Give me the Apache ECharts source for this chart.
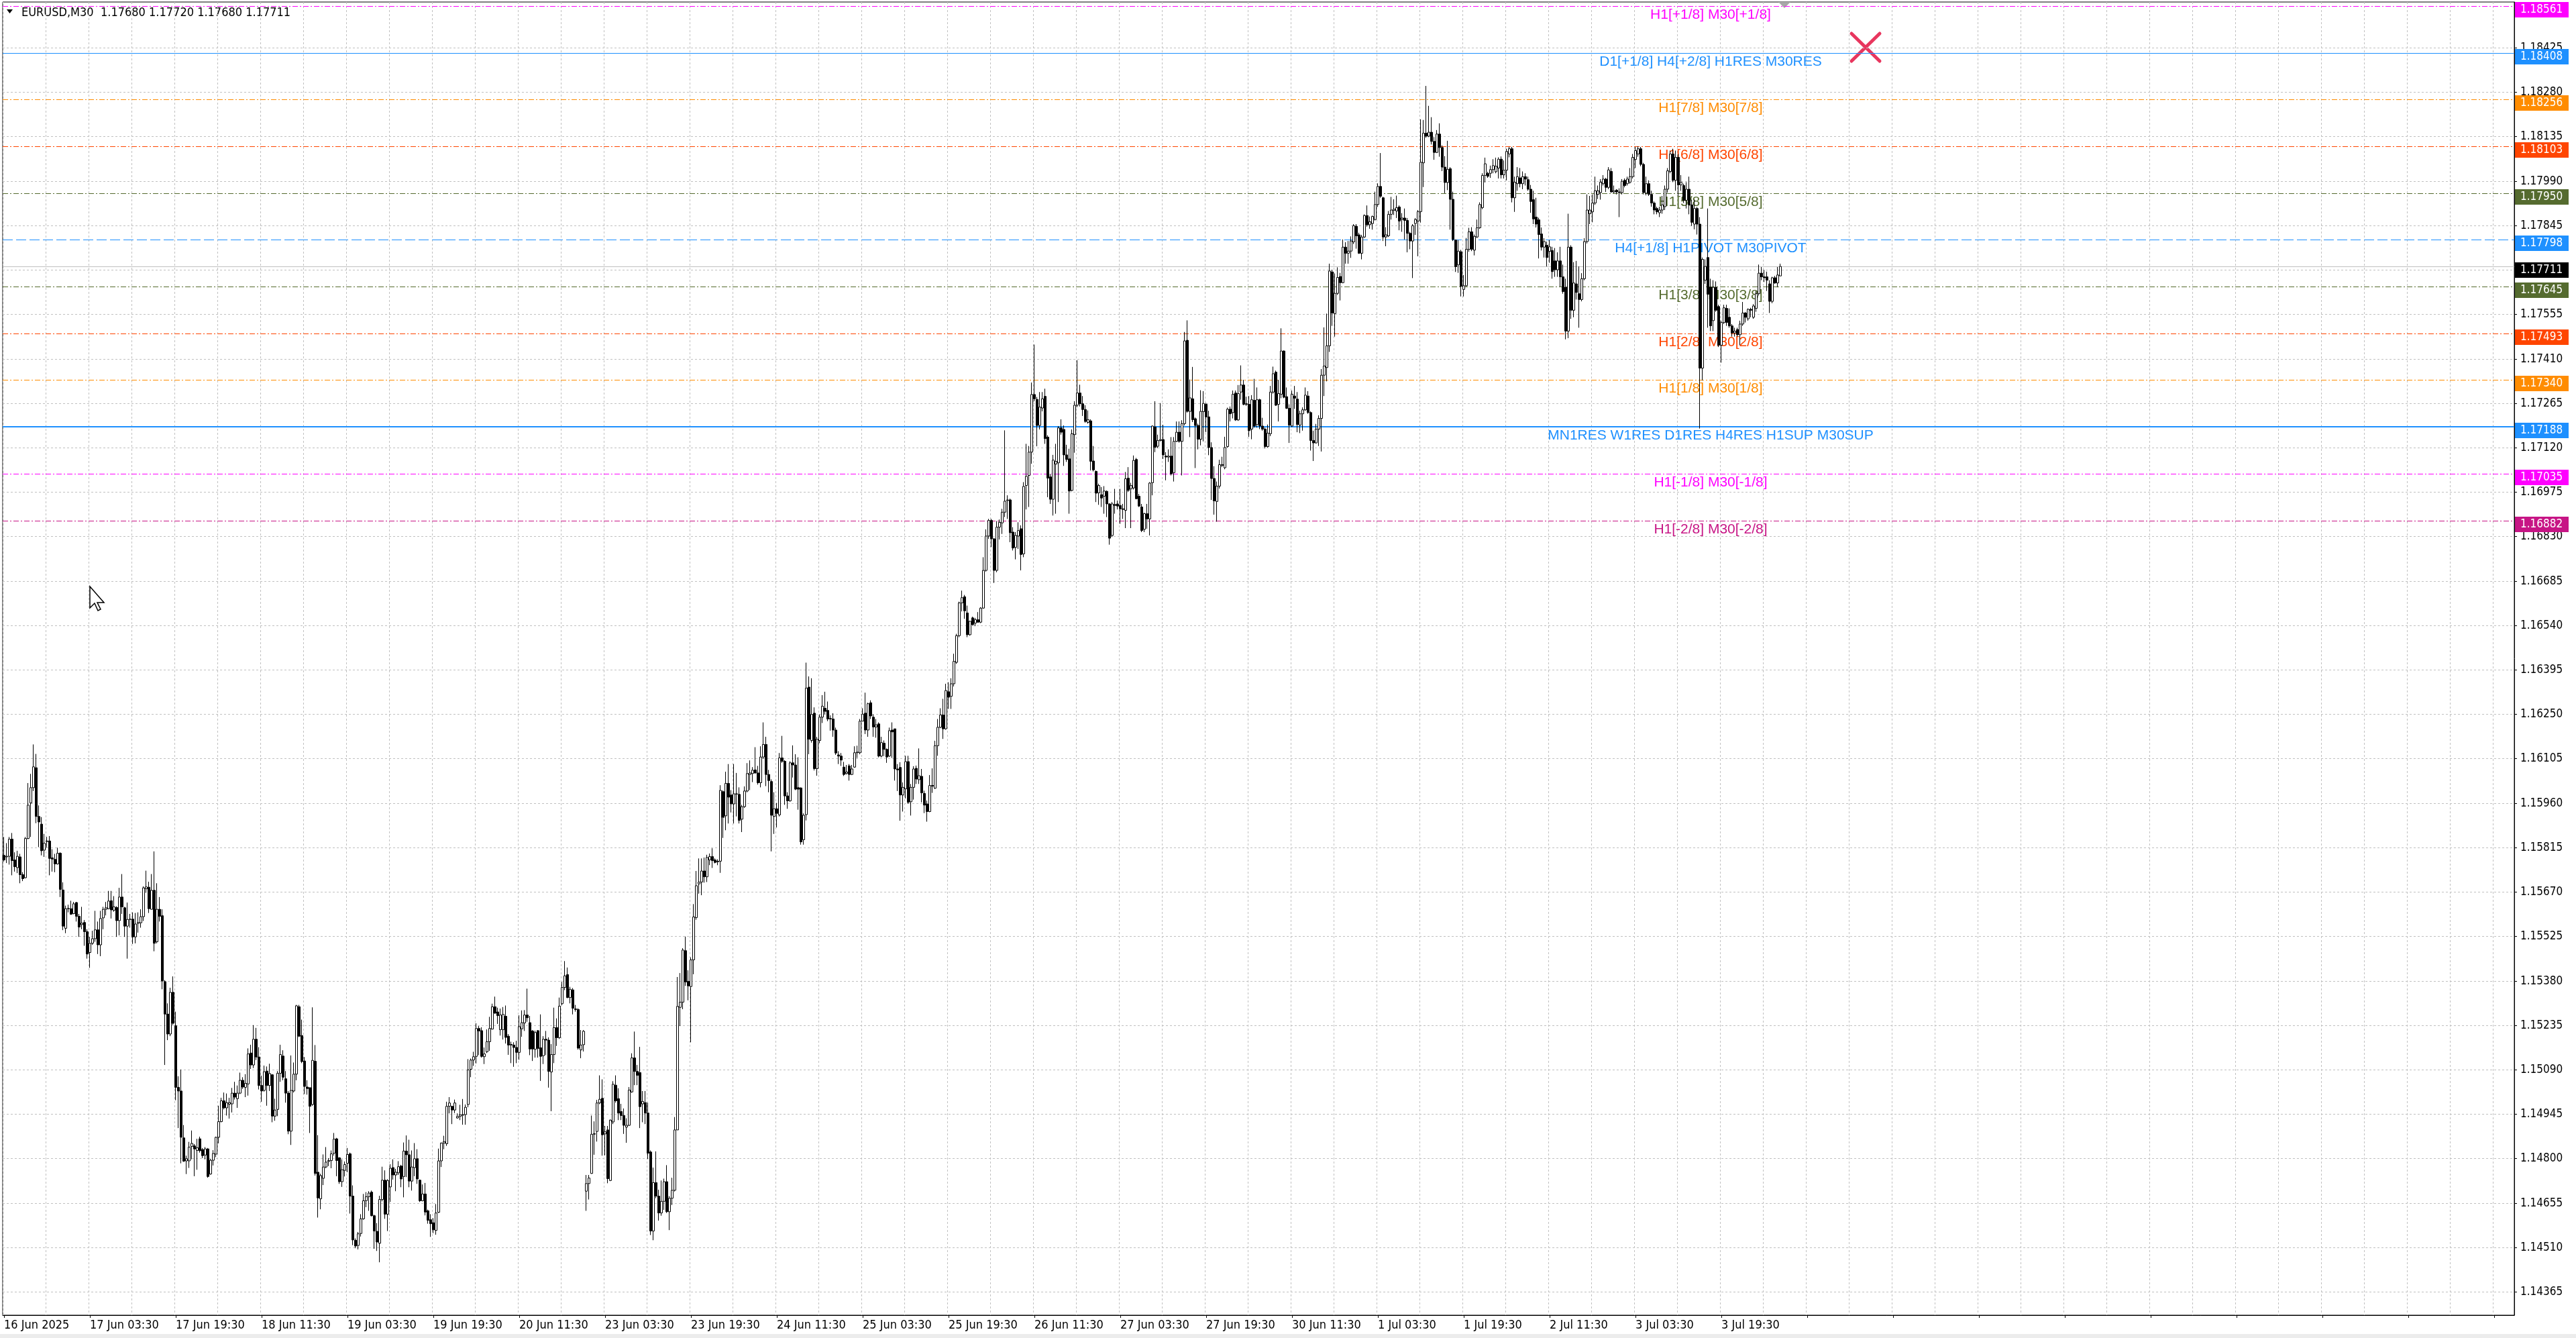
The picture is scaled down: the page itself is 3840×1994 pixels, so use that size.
<!DOCTYPE html>
<html><head><meta charset="utf-8">
<script src="https://cdn.jsdelivr.net/npm/echarts@6/dist/echarts.min.js"></script>
<style>html,body{margin:0;padding:0;background:#fff;overflow:hidden}#c{width:3840px;height:1994px}</style>
</head><body><div id="c"></div>
<script>
// Prices are stored as offsets in units of 0.00001 from BASE (1.14000)
const BASE = 1.14;
const opens = [1789,1784,1786,1842,1774,1749,1784,1726,1716,1844,
1960,2010,2075,1916,1891,1806,1834,1836,1781,1776,
1761,1796,1676,1551,1615,1615,1599,1635,1590,1563,
1570,1540,1472,1502,1517,1546,1497,1585,1613,1615,
1641,1610,1619,1576,1653,1618,1558,1580,1581,1523,
1567,1569,1589,1680,1685,1613,1675,1507,1613,1592,
1377,1271,1206,1342,1233,1032,1020,867,792,792,
839,841,826,864,829,811,831,749,794,814,
869,920,988,965,977,978,1013,995,1013,1055,
1032,1043,1144,1105,1189,1131,1038,1022,1085,1038,
1073,938,960,1078,1134,1060,1013,889,1020,1075,
1295,1201,1118,1033,1031,976,1117,755,668,735,
772,790,793,817,864,802,724,761,784,815,
677,533,516,555,603,662,675,690,613,562,
523,666,729,618,707,770,746,753,775,741,
824,812,726,770,799,729,662,684,629,600,
590,565,624,792,850,848,970,970,958,932,
937,941,943,976,1091,1121,1133,1224,1217,1132,
1148,1181,1222,1295,1278,1220,1220,1264,1199,1170,
1170,1162,1146,1223,1242,1268,1243,1216,1156,1217,
1161,1135,1189,1186,1082,1139,1227,1194,1305,1358,
1400,1325,1350,1288,1286,1154,1171,693,718,751,
879,888,981,996,880,893,728,919,1039,995,
953,940,902,908,1017,1128,1084,1080,978,982,
948,821,563,721,677,622,660,724,626,670,
696,893,1293,1310,1478,1378,1361,1448,1586,1696,
1702,1738,1719,1774,1785,1774,1770,1770,1997,1918,
2024,1986,1957,1990,1988,1907,1948,1999,2053,2056,
2068,2058,2026,2110,2151,2053,2030,1916,1941,1921,
2107,2096,1983,1967,2091,2084,2010,2009,1840,1922,
2338,2164,2253,2072,2164,2240,2269,2262,2234,2234,
2198,2117,2113,2077,2056,2081,2053,2077,2124,2124,
2227,2253,2198,2287,2240,2208,2218,2113,2155,2135,
2113,2198,2202,2071,2076,1986,2006,2095,1964,2011,
2073,2036,2047,1991,1957,1932,2017,2008,2147,2207,
2247,2202,2323,2308,2349,2419,2506,2613,2633,2580,
2509,2564,2547,2558,2550,2596,2719,2831,2882,2822,
2719,2860,2874,2909,2947,2949,2844,2794,2831,2855,
2773,2996,3029,3105,3293,3277,3192,3249,3287,3154,
3024,2951,3066,3070,3184,3179,3096,3083,2980,3162,
3258,3298,3263,3244,3202,3207,3076,3042,2972,2966,
2961,2977,2936,2833,2934,2936,2931,2920,2915,3020,
2985,2988,3081,2961,2926,2853,2904,2887,3005,3187,
3124,3143,3146,3092,3089,3092,3038,3140,3170,3140,
3198,3470,3238,3279,3214,3192,3147,3237,3261,3220,
3120,3019,2944,2994,3064,3054,3123,3245,3234,3298,
3210,3301,3324,3261,3261,3180,3274,3195,3276,3190,
3180,3123,3165,3301,3366,3261,3294,3435,3286,3248,
3190,3288,3278,3193,3230,3243,3288,3234,3143,3135,
3180,3215,3356,3381,3452,3693,3557,3623,3678,3658,
3774,3754,3761,3791,3842,3814,3754,3807,3877,3847,
3851,3864,3913,3972,3935,3807,3811,3881,3894,3892,
3905,3864,3869,3861,3819,3794,3851,3859,3890,4049,
4146,4136,4149,4119,4083,4143,4099,4035,3985,4030,
3930,3797,3716,3759,3636,3648,3767,3824,3764,3807,
3837,3903,4008,4015,4015,4027,4020,4032,4061,4010,
4025,4078,4095,3935,3981,4000,3981,4004,3994,3963,
3929,3872,3863,3817,3774,3780,3760,3763,3729,3700,
3729,3677,3643,3500,3774,3568,3654,3622,3603,3671,
3792,3883,3889,3918,3946,3952,3981,3996,3969,4021,
3954,3960,3954,3952,3992,3981,3986,4004,4060,4078,
4095,4044,3950,3981,3946,3918,3900,3886,3895,3906,
3963,4021,4078,3992,4067,3977,3975,3927,3963,3912,
3849,3900,3849,3379,3666,3740,3643,3534,3643,3580,
3454,3528,3574,3545,3517,3494,3505,3488,3523,3559,
3540,3571,3545,3574,3622,3689,3677,3677,3654,3597,
3674,3657,3680];
const highs = [1849,1829,1849,1862,1799,1804,1794,1734,1849,2025,
2055,2151,2120,1952,1914,1859,1849,1852,1809,1794,
1814,1799,1701,1625,1628,1641,1637,1637,1598,1621,
1578,1548,1523,1543,1608,1573,1608,1621,1637,1673,
1673,1656,1623,1683,1728,1621,1635,1598,1603,1601,
1603,1613,1688,1739,1703,1728,1802,1698,1653,1613,
1382,1306,1357,1394,1279,1068,1090,909,809,854,
891,847,864,871,834,837,834,799,827,871,
972,998,1015,1012,998,1030,1050,1038,1080,1065,
1075,1159,1171,1235,1226,1163,1070,1103,1100,1109,
1075,995,1085,1171,1153,1085,1020,1136,1113,1301,
1301,1253,1131,1055,1031,1293,1170,876,750,813,
837,801,826,883,867,804,797,790,834,819,
712,539,560,618,684,690,693,695,616,589,
678,773,761,732,781,797,766,791,779,852,
875,861,826,850,830,731,715,720,633,618,
605,651,832,852,874,985,1000,972,992,947,
975,994,976,1124,1126,1148,1241,1232,1228,1162,
1221,1262,1305,1328,1292,1289,1294,1299,1206,1181,
1179,1184,1267,1283,1284,1354,1265,1219,1217,1219,
1270,1199,1216,1195,1173,1292,1257,1325,1376,1444,
1423,1360,1356,1301,1290,1219,1219,746,746,940,
921,991,1071,1058,906,906,927,1052,1071,1029,
978,963,931,1033,1143,1214,1105,1164,1020,1020,
982,826,770,823,698,728,734,778,677,737,
935,1392,1405,1486,1524,1414,1456,1630,1738,1779,
1779,1782,1791,1795,1812,1779,1776,2018,2001,2062,
2087,2002,2087,2058,2011,1954,2014,2090,2099,2077,
2142,2081,2145,2223,2176,2068,2037,1995,1960,2123,
2179,2100,1995,2096,2148,2119,2109,2011,1926,2418,
2373,2367,2272,2176,2249,2312,2323,2291,2246,2253,
2206,2129,2123,2094,2084,2087,2084,2145,2147,2234,
2269,2320,2287,2295,2249,2234,2223,2176,2164,2138,
2206,2223,2202,2087,2093,2027,2114,2114,2022,2080,
2082,2138,2071,2000,1968,2051,2073,2163,2234,2269,
2300,2349,2354,2367,2447,2512,2617,2653,2639,2604,
2555,2568,2564,2583,2599,2762,2853,2887,2887,2825,
2880,2885,2920,3176,2964,2953,2860,2844,2876,2866,
3007,3132,3125,3332,3456,3285,3301,3301,3312,3160,
3034,3096,3132,3190,3212,3192,3129,3116,3179,3271,
3405,3325,3288,3258,3241,3212,3125,3045,3002,2991,
2994,2980,2938,2942,2985,2947,2985,2936,3040,3056,
3005,3094,3086,2969,2936,2907,2936,3007,3192,3271,
3162,3265,3194,3105,3114,3154,3154,3205,3205,3209,
3497,3535,3342,3383,3218,3198,3307,3304,3266,3240,
3137,3059,3009,3080,3090,3155,3250,3254,3306,3306,
3324,3388,3341,3286,3288,3291,3344,3316,3279,3217,
3185,3195,3321,3384,3371,3341,3509,3437,3316,3261,
3306,3321,3301,3240,3251,3316,3304,3238,3175,3197,
3225,3376,3512,3557,3720,3700,3688,3708,3690,3799,
3790,3794,3809,3849,3849,3821,3814,3881,3910,3874,
3877,3955,3982,4081,3938,3839,3892,3938,3930,3942,
3910,3885,3900,3869,3824,3849,3869,3895,4191,4189,
4300,4235,4198,4133,4156,4178,4106,4071,4121,4035,
3955,3799,3797,3765,3683,3804,3837,3839,3815,3864,
3920,4015,4066,4020,4040,4061,4066,4067,4070,4057,
4095,4101,4101,4004,4035,4032,4021,4015,4004,3977,
3958,3935,3870,3838,3803,3792,3797,3775,3771,3757,
3775,3717,3671,3883,3780,3725,3729,3711,3689,3803,
3946,3941,3946,4004,3975,3996,4009,4000,4035,4032,
3975,3963,3966,3996,3998,4004,4032,4078,4101,4103,
4101,4049,4004,3992,3958,3923,3906,3906,3941,3975,
4032,4089,4095,4089,4078,4009,3981,3986,4004,3929,
3929,3905,3872,3740,3734,3900,3671,3666,3662,3586,
3534,3586,3586,3574,3523,3511,3511,3534,3595,3562,
3574,3576,3588,3631,3717,3709,3700,3694,3666,3677,
3680,3709,3720];
const lows = [1769,1764,1759,1724,1736,1731,1698,1705,1714,1842,
1849,1999,1894,1816,1789,1784,1814,1724,1736,1734,
1759,1653,1545,1535,1603,1595,1597,1573,1523,1548,
1494,1452,1422,1497,1507,1467,1460,1548,1593,1613,
1583,1605,1523,1528,1598,1523,1452,1553,1500,1502,
1537,1553,1575,1667,1601,1612,1476,1502,1573,1352,
1105,1186,1199,1236,990,899,784,789,749,769,
797,742,763,819,801,797,737,747,777,804,
849,918,960,940,930,950,992,965,1010,1027,
1000,1005,1092,1095,1121,1025,985,1018,972,1020,
918,923,938,1050,1055,982,879,844,1015,1055,
1196,1111,1010,1008,883,972,744,607,634,713,
768,775,768,809,742,717,707,741,755,620,
517,507,503,545,600,641,629,611,505,498,
461,660,603,563,658,731,693,746,706,673,
739,706,695,742,717,658,660,614,587,544,
556,551,622,772,830,841,947,912,948,930,
925,910,910,967,1065,1102,1110,1137,1129,1108,
1144,1151,1221,1272,1239,1201,1188,1175,1138,1111,
1099,1111,1122,1197,1216,1246,1137,1118,1129,1129,
1053,1108,1137,1031,954,1111,1167,1190,1300,1349,
1323,1306,1270,1279,1155,1127,1149,629,666,750,
812,855,977,809,810,719,726,912,982,925,
925,880,851,906,1014,1039,1039,899,918,912,
798,550,533,670,597,613,632,622,566,648,
692,893,1232,1287,1363,1316,1179,1401,1579,1664,
1659,1700,1702,1757,1748,1763,1757,1732,1846,1871,
1893,1929,1893,1916,1893,1865,1944,1995,2002,2028,
2056,2020,2011,2104,2015,1995,1802,1859,1880,1916,
2091,1954,1941,1964,2043,2002,1938,1824,1824,1903,
2119,2157,2066,2049,2155,2221,2249,2227,2196,2176,
2117,2087,2081,2048,2053,2033,2051,2075,2107,2119,
2227,2185,2176,2234,2176,2173,2109,2109,2113,2091,
2110,2107,2033,1999,1902,1932,1975,1957,1919,1971,
2022,2022,1962,1927,1899,1930,1993,2006,2114,2204,
2169,2199,2267,2267,2340,2414,2501,2585,2561,2501,
2506,2539,2537,2548,2547,2594,2715,2822,2795,2678,
2713,2820,2838,2893,2887,2811,2784,2755,2789,2719,
2762,2918,2926,3067,3271,3124,3179,3238,3132,2958,
2936,2898,2904,2942,3162,3060,3073,2904,2977,3103,
3252,3254,3223,3201,3198,3045,3042,2942,2933,2926,
2904,2893,2803,2828,2904,2918,2871,2887,2857,2975,
2857,2983,2951,2926,2844,2844,2855,2833,2964,3105,
3118,3140,3083,3013,3073,3029,3009,3138,3136,3029,
3192,3234,3154,3203,3053,3114,3127,3140,3170,3095,
2949,2901,2878,2986,3056,3049,3120,3205,3215,3207,
3207,3276,3258,3256,3155,3147,3185,3185,3180,3175,
3117,3120,3157,3296,3256,3205,3281,3281,3246,3135,
3187,3246,3170,3167,3175,3240,3230,3110,3076,3133,
3125,3107,3288,3336,3432,3517,3482,3618,3600,3656,
3720,3720,3739,3784,3769,3752,3734,3804,3841,3834,
3831,3861,3905,3935,3794,3777,3807,3864,3879,3869,
3829,3824,3799,3757,3767,3673,3814,3744,3854,3970,
4131,4133,4109,4059,4081,4069,4022,3950,3960,3831,
3794,3693,3690,3613,3613,3646,3759,3761,3747,3804,
3834,3898,3985,4000,4000,4015,4015,3998,3998,3998,
3992,4067,3920,3889,3958,3969,3963,3975,3958,3886,
3849,3838,3737,3763,3740,3711,3723,3671,3677,3677,
3645,3622,3473,3477,3540,3545,3603,3511,3597,3666,
3786,3849,3855,3912,3931,3929,3975,3954,3963,3952,
3950,3946,3872,3946,3969,3975,3981,3998,4032,4069,
4038,3946,3943,3941,3906,3881,3881,3872,3883,3895,
3952,4015,3986,3958,3941,3958,3918,3900,3881,3843,
3832,3815,3182,3339,3654,3511,3500,3500,3563,3448,
3397,3523,3517,3511,3482,3482,3482,3454,3517,3528,
3534,3545,3540,3563,3616,3666,3660,3631,3559,3591,
3654,3643,3680];
const closes = [1774,1786,1842,1772,1752,1786,1726,1713,1844,1953,
2010,2078,1916,1898,1804,1829,1836,1779,1777,1761,
1796,1678,1558,1615,1616,1597,1631,1590,1555,1568,
1540,1467,1502,1517,1546,1497,1583,1613,1618,1640,
1611,1621,1576,1653,1621,1558,1580,1581,1523,1565,
1570,1589,1683,1686,1615,1675,1502,1613,1590,1379,
1271,1206,1342,1241,1032,1020,869,791,799,837,
849,831,835,825,809,831,741,794,816,869,
920,988,965,982,982,1013,1000,1013,1055,1033,
1045,1141,1105,1189,1131,1038,1020,1083,1038,1077,
938,958,1078,1139,1065,1013,889,1022,1075,1298,
1199,1116,1035,1028,970,1120,751,671,744,772,
788,793,815,863,793,724,763,780,813,677,
534,514,554,603,662,675,687,613,563,527,
666,729,618,728,768,746,755,773,733,824,
812,726,772,799,733,662,684,625,598,587,
567,622,792,850,855,970,981,958,981,937,
942,943,967,1089,1121,1132,1224,1216,1133,1141,
1181,1224,1295,1274,1266,1268,1270,1195,1170,1172,
1162,1146,1230,1243,1268,1259,1157,1157,1211,1159,
1133,1189,1186,1084,1139,1227,1194,1297,1358,1396,
1325,1352,1290,1286,1160,1170,1215,718,736,879,
881,981,993,877,887,734,925,1042,988,948,
940,908,908,1023,1128,1084,1071,969,986,948,
817,563,721,677,622,660,724,626,670,696,
893,1296,1310,1480,1376,1363,1448,1588,1690,1702,
1738,1719,1782,1785,1772,1766,1768,2001,1913,2024,
1979,1957,1990,1989,1903,1948,1999,2056,2058,2067,
2058,2026,2110,2151,2053,2033,1920,1941,1926,2107,
2096,1983,1967,2091,2084,2005,2005,1833,1920,2335,
2168,2249,2072,2168,2240,2276,2259,2234,2236,2198,
2123,2113,2100,2053,2061,2053,2071,2124,2126,2227,
2250,2198,2284,2244,2208,2215,2113,2157,2135,2110,
2196,2192,2071,2068,1986,2011,2095,1962,2011,2071,
2038,2049,1993,1953,1932,2017,2015,2147,2207,2247,
2202,2327,2305,2349,2422,2506,2613,2630,2587,2509,
2553,2542,2558,2550,2596,2719,2831,2882,2822,2719,
2860,2876,2909,2945,2949,2842,2792,2833,2849,2771,
2993,3026,3105,3293,3279,3192,3252,3279,3149,3020,
2951,3079,3075,3184,3170,3096,3081,2978,3165,3258,
3298,3263,3244,3205,3211,3075,3047,2971,2996,2955,
2978,2936,2824,2936,2931,2929,2920,2918,3018,2980,
2996,3078,2953,2929,2849,2904,2887,3004,3190,3121,
3143,3146,3096,3089,3092,3034,3140,3170,3140,3198,
3468,3238,3282,3211,3192,3147,3238,3264,3220,3120,
3019,2946,2994,3064,3062,3120,3245,3230,3294,3210,
3296,3324,3261,3263,3175,3276,3190,3276,3190,3180,
3123,3167,3301,3361,3258,3296,3435,3284,3248,3193,
3294,3281,3195,3230,3243,3291,3234,3143,3135,3180,
3215,3356,3386,3452,3696,3559,3623,3675,3658,3774,
3754,3761,3794,3844,3811,3754,3807,3877,3847,3857,
3874,3913,3972,3940,3807,3814,3881,3895,3898,3903,
3859,3869,3861,3819,3794,3844,3864,3890,4051,4146,
4136,4149,4119,4083,4143,4099,4035,3985,4028,3930,
3799,3710,3761,3646,3648,3767,3824,3767,3809,3837,
3913,4008,4046,4005,4027,4040,4038,4061,4010,4025,
4086,4095,3935,3986,4004,3981,4004,3996,3963,3923,
3866,3849,3815,3774,3792,3740,3775,3694,3700,3729,
3677,3629,3500,3774,3568,3657,3626,3603,3671,3792,
3895,3895,3918,3958,3958,3986,3996,3969,4026,3954,
3958,3954,3952,3989,3975,3996,4004,4067,4089,4095,
4044,3952,3981,3946,3918,3895,3889,3895,3912,3963,
4023,4078,3992,4067,3977,3985,3927,3963,3912,3855,
3900,3849,3379,3734,3711,3620,3517,3643,3568,3454,
3528,3576,3528,3517,3494,3500,3488,3523,3559,3545,
3571,3568,3582,3622,3689,3677,3674,3666,3597,3674,
3657,3683,3711];

const xTickLabels = ['16 Jun 2025','17 Jun 03:30','17 Jun 19:30','18 Jun 11:30','19 Jun 03:30','19 Jun 19:30','20 Jun 11:30','23 Jun 03:30','23 Jun 19:30','24 Jun 11:30','25 Jun 03:30','25 Jun 19:30','26 Jun 11:30','27 Jun 03:30','27 Jun 19:30','30 Jun 11:30','1 Jul 03:30','1 Jul 19:30','2 Jul 11:30','3 Jul 03:30','3 Jul 19:30'];
const yTickLabels = ['1.14365','1.14510','1.14655','1.14800','1.14945','1.15090','1.15235','1.15380','1.15525','1.15670','1.15815','1.15960','1.16105','1.16250','1.16395','1.16540','1.16685','1.16830','1.16975','1.17120','1.17265','1.17410','1.17555','1.17700','1.17845','1.17990','1.18135','1.18280','1.18425'];

const levelPrices = [1.18561,1.18408,1.18256,1.18103,1.17950,1.17798,1.17645,1.17493,1.17340,1.17188,1.17035,1.16882];
const levelNames = ['H1[+1/8] M30[+1/8]','D1[+1/8] H4[+2/8] H1RES M30RES','H1[7/8] M30[7/8]','H1[6/8] M30[6/8]','H1[5/8] M30[5/8]','H4[+1/8] H1PIVOT M30PIVOT','H1[3/8] M30[3/8]','H1[2/8] M30[2/8]','H1[1/8] M30[1/8]','MN1RES W1RES D1RES H4RES H1SUP M30SUP','H1[-1/8] M30[-1/8]','H1[-2/8] M30[-2/8]'];
const levelColors = ['#FF00FF','#1E90FF','#FF8C00','#FF4500','#556B2F','#1E90FF','#556B2F','#FF4500','#FF8C00','#1E90FF','#FF00FF','#C71585'];
const levelStyles = ['dashdot','solid','dashdot','dashdot','dashdot','dash','dashdot','dashdot','dashdot','thick','dashdot','dashdot'];

// ---- layout / style constants ----
const SLOTS = 936;          // bar slots on the time axis (includes empty right margin)
const LABEL_BAR = 636;      // slot where the level names are centred
const AXIS_FONT = '17px "DejaVu Sans Condensed", "DejaVu Sans", sans-serif';
const XAXIS_FONT = '18px "DejaVu Sans Condensed", "DejaVu Sans", sans-serif';
const LEVEL_FONT = '21px "Liberation Sans", Arial, sans-serif';
const DASH = {dashdot:[8,3,2,3], dash:[15,5], solid:null, thick:null};

const px = v => +(BASE + v / 1e5).toFixed(5);
const N = Math.min(opens.length, highs.length, lows.length, closes.length);
const candles = [];
for (let i = 0; i < N; i++) candles.push([px(opens[i]), px(closes[i]), px(lows[i]), px(highs[i])]);

// time categories (M30 bars, weekends skipped)
const MON = ['Jan','Feb','Mar','Apr','May','Jun','Jul','Aug','Sep','Oct','Nov','Dec'];
const categories = [];
let t = Date.UTC(2025, 5, 16, 11, 30);
while (categories.length < SLOTS) {
  const d = new Date(t);
  const wd = d.getUTCDay();
  if (wd !== 0 && wd !== 6) {
    categories.push(d.getUTCDate() + ' ' + MON[d.getUTCMonth()] + ' ' +
      String(d.getUTCHours()).padStart(2, '0') + ':' + String(d.getUTCMinutes()).padStart(2, '0'));
  }
  t += 1800000;
}

const levels = levelPrices.map((p, i) => ({
  price: p, name: levelNames[i], color: levelColors[i], box: levelColors[i],
  width: levelStyles[i] === 'thick' ? 2 : 1, dash: DASH[levelStyles[i]]
}));
const lastClose = px(closes[N - 1]);
levels.push({price: lastClose, name: '', color: '#C0C0C0', box: '#000000', width: 1, dash: null});

const f5 = v => px(v).toFixed(5);
const header = 'EURUSD,M30  ' + f5(opens[N-1]) + ' ' + f5(highs[N-1]) + ' ' + f5(lows[N-1]) + ' ' + f5(closes[N-1]);

const chart = echarts.init(document.getElementById('c'), null, {renderer: 'canvas'});
chart.setOption({
  animation: false,
  backgroundColor: '#ffffff',
  grid: {left: 4, right: 92, top: 3, bottom: 34, show: true, borderColor: '#000', borderWidth: 1, backgroundColor: '#fff', containLabel: false},
  xAxis: {
    type: 'category', data: categories, boundaryGap: true,
    axisLine: {show: true, onZero: false, lineStyle: {color: '#000', width: 1}},
    axisTick: {show: true, interval: 31, alignWithLabel: true, length: 4, lineStyle: {color: '#000'}},
    axisLabel: {
      show: true, interval: 31, align: 'left', margin: 6, color: '#000',
      fontFamily: '"DejaVu Sans Condensed", "DejaVu Sans", sans-serif', fontSize: 18,
      formatter: (v, idx) => (idx % 32 === 0 && xTickLabels[idx / 32]) ? xTickLabels[idx / 32] : ''
    },
    splitLine: {show: true, interval: 15, lineStyle: {color: '#C0C0C0', width: 1, type: [3, 3]}}
  },
  yAxis: {
    type: 'value', position: 'right', min: 1.142884, max: 1.185739, scale: true,
    axisLine: {show: true, onZero: false, lineStyle: {color: '#000', width: 1}},
    axisTick: {show: false}, axisLabel: {show: false}, splitLine: {show: false}
  },
  series: [
    {
      type: 'custom', name: 'yGrid', z: 1, silent: true, clip: false,
      coordinateSystem: 'cartesian2d',
      data: yTickLabels.map((s, i) => [0, parseFloat(s), i]),
      encode: {x: 0, y: 1},
      renderItem: (params, api) => {
        const cs = params.coordSys;
        const yr = Math.round(api.coord([0, api.value(1)])[1]);
        const y = yr + 0.5;
        const right = cs.x + cs.width;
        return {type: 'group', children: [
          {type: 'line', shape: {x1: cs.x, y1: y, x2: right, y2: y}, style: {stroke: '#C0C0C0', lineWidth: 1, lineDash: [3, 3]}},
          {type: 'line', shape: {x1: right, y1: y, x2: right + 4, y2: y}, style: {stroke: '#000', lineWidth: 1}},
          {type: 'text', x: right + 9, y: yr + 1, style: {text: yTickLabels[api.value(2)], fill: '#000', font: AXIS_FONT, align: 'left', verticalAlign: 'middle'}}
        ]};
      }
    },
    {
      type: 'custom', name: 'levels', z: 1.5, silent: true, clip: false,
      coordinateSystem: 'cartesian2d',
      data: levels.map((L, i) => [0, L.price, i]),
      encode: {x: 0, y: 1},
      renderItem: (params, api) => {
        const cs = params.coordSys;
        const L = levels[api.value(2)];
        const yr = Math.round(api.coord([0, L.price])[1]);
        const y = L.width % 2 ? yr + 0.5 : yr;
        const right = cs.x + cs.width;
        const children = [
          {type: 'line', shape: {x1: cs.x, y1: y, x2: right, y2: y}, style: {stroke: L.color, lineWidth: L.width, lineDash: L.dash}},
          {type: 'rect', shape: {x: right + 1, y: yr - 6, width: 80, height: 23}, style: {fill: L.box}},
          {type: 'text', x: right + 9, y: yr + 6, style: {text: L.price.toFixed(5), fill: '#fff', font: AXIS_FONT, align: 'left', verticalAlign: 'middle'}}
        ];
        if (L.name) {
          children.push({type: 'text', x: api.coord([LABEL_BAR, L.price])[0], y: yr + 3,
            style: {text: L.name, fill: L.color, font: LEVEL_FONT, align: 'center', verticalAlign: 'top'}});
        }
        return {type: 'group', children};
      }
    },
    {
      type: 'candlestick', name: 'EURUSD,M30', z: 2, silent: true,
      large: false, barWidth: 3, data: candles,
      itemStyle: {color: '#ffffff', color0: '#000000', borderColor: '#000000', borderColor0: '#000000', borderColorDoji: '#000000', borderWidth: 1}
    }
  ],
  graphic: [
    {type: 'polygon', silent: true, shape: {points: [[10, 14], [19, 14], [14.5, 20]]}, style: {fill: '#000'}},
    {type: 'text', silent: true, x: 32, y: 10, style: {text: header, fill: '#000', font: XAXIS_FONT, verticalAlign: 'top'}},
    {type: 'polygon', silent: true, shape: {points: [[2651, 3], [2669, 3], [2660, 12]]}, style: {fill: '#A8A8A8'}},
    {type: 'line', silent: true, shape: {x1: 2760, y1: 50, x2: 2802, y2: 91}, style: {stroke: '#E8365E', lineWidth: 5, lineCap: 'round'}},
    {type: 'line', silent: true, shape: {x1: 2802, y1: 50, x2: 2760, y2: 91}, style: {stroke: '#E8365E', lineWidth: 5, lineCap: 'round'}},
    {type: 'polygon', silent: true, shape: {points: [[134, 874], [134, 906], [141, 899], [146, 910], [150, 908], [145, 898], [155, 898]]}, style: {fill: '#fff', stroke: '#000', lineWidth: 1.5}},
    {type: 'rect', silent: true, shape: {x: 0, y: 1988, width: 3840, height: 6}, style: {fill: '#ECECEC'}}
  ]
});
</script>
</body></html>
